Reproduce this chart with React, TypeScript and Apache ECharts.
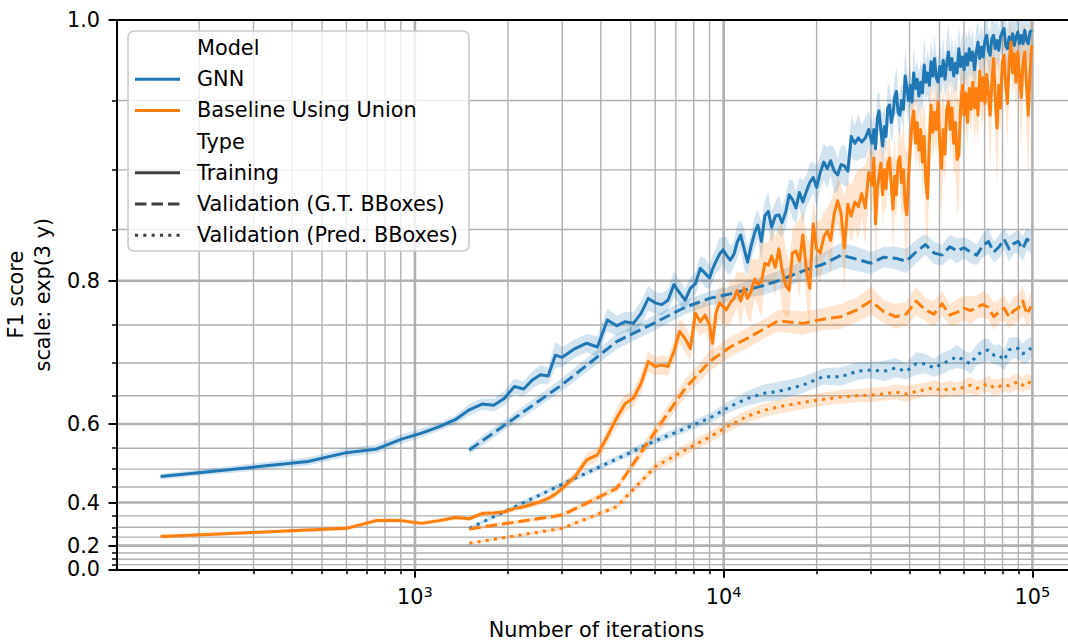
import React, { useEffect, useRef } from "react";
import * as echarts from "echarts";

// ---------- data (iterations, F1 score) ----------
const trainIters = [
  150, 300, 450, 600, 750, 900, 1050, 1200, 1350, 1500, 1650, 1800, 1950, 2100, 2250, 2400, 2550, 2700, 2850, 3000,
  3300, 3600, 3900, 4200, 4500, 4800, 5100, 5400, 5700, 6000, 6300, 6600, 6900, 7200, 7500, 7800, 8100,
  8400, 8700, 9000, 9200, 9450, 9700, 9950, 10200, 10500, 10800,
  11050, 11350, 11650, 11950, 12250, 12600, 12900, 13250, 13600, 13950,
  14300, 14700, 15100, 15450, 15900, 16300, 16700, 17150, 17600, 18050,
  18550, 19000, 19500, 20000, 20550, 21100, 21650, 22200, 22800, 23400,
  24000, 24600, 25250, 25900, 26600, 27300, 28000, 28750, 29500,
  30250, 30650, 31050, 31450, 31850, 32275, 32700, 33125, 33550, 34000,
  34450, 34900, 35350, 35800, 36250, 36725, 37200, 37700, 38200, 38700,
  39200, 39700, 40200, 40725, 41250, 41800, 42350, 42900, 43450, 44025,
  44600, 45175, 45750, 46350, 46950, 47575, 48200, 48825, 49450, 50100,
  50750, 51425, 52100, 52775, 53450, 54150, 54850, 55575, 56300, 57025,
  57750, 58525, 59300, 60075, 60850, 61650, 62450, 63275, 64100, 64925,
  65750, 66625, 67500, 68375, 69250, 70175, 71100, 72025, 72950, 73900,
  74850, 75825, 76800, 77800, 78800, 79850, 80900, 81950, 83000, 84100,
  85200, 86300, 87400, 88550, 89700, 90875, 92050, 93250, 94450, 95700,
  96950, 98200, 99450,
];

const gnnTrain = [
  0.480, 0.505, 0.519, 0.540, 0.548, 0.569, 0.582, 0.595, 0.608, 0.626, 0.636, 0.634, 0.646, 0.665, 0.661, 0.675, 0.683, 0.681, 0.711, 0.708,
  0.720, 0.727, 0.722, 0.756, 0.749, 0.754, 0.752, 0.764, 0.781, 0.776, 0.774, 0.779, 0.796, 0.787, 0.779, 0.792, 0.797,
  0.813, 0.808, 0.803, 0.812, 0.820, 0.827, 0.831, 0.826, 0.821, 0.827,
  0.838, 0.845, 0.832, 0.819, 0.834, 0.847, 0.854, 0.839, 0.862, 0.866,
  0.852, 0.862, 0.863, 0.856, 0.866, 0.880, 0.876, 0.869, 0.882, 0.874,
  0.883, 0.890, 0.894, 0.886, 0.898, 0.906, 0.901, 0.907, 0.899, 0.896,
  0.904, 0.903, 0.899, 0.925, 0.920, 0.924, 0.921, 0.924, 0.930,
  0.920, 0.930, 0.916, 0.938, 0.943, 0.930, 0.918, 0.932, 0.925, 0.945,
  0.947, 0.935, 0.941, 0.952, 0.956, 0.942, 0.940, 0.950, 0.944, 0.966,
  0.958, 0.950, 0.960, 0.949, 0.968, 0.958, 0.964, 0.953, 0.962, 0.955,
  0.973, 0.962, 0.968, 0.960, 0.975, 0.966, 0.977, 0.965, 0.962, 0.972,
  0.966, 0.976, 0.964, 0.974, 0.981, 0.970, 0.977, 0.966, 0.974, 0.968,
  0.983, 0.972, 0.978, 0.970, 0.980, 0.973, 0.983, 0.976, 0.981, 0.970,
  0.980, 0.987, 0.977, 0.984, 0.978, 0.988, 0.991, 0.982, 0.979, 0.989,
  0.991, 0.983, 0.988, 0.982, 0.990, 0.993, 0.995, 0.985, 0.983, 0.990,
  0.986, 0.992, 0.985, 0.990, 0.993, 0.986, 0.991, 0.986, 0.994, 0.988,
  0.986, 0.993, 0.994,
];

const gnnTrainCi = [
  0.008, 0.009, 0.010, 0.010, 0.010, 0.010, 0.009, 0.008, 0.008, 0.010, 0.010, 0.011, 0.012, 0.012, 0.012, 0.013, 0.014, 0.013, 0.018, 0.014,
  0.012, 0.012, 0.014, 0.014, 0.012, 0.012, 0.013, 0.014, 0.014, 0.012, 0.013, 0.012, 0.014, 0.013, 0.013, 0.012, 0.012,
  0.012, 0.015, 0.012, 0.014, 0.012, 0.016, 0.012, 0.018, 0.014, 0.012,
  0.016, 0.013, 0.020, 0.014, 0.012, 0.015, 0.013, 0.018, 0.013, 0.016,
  0.014, 0.012, 0.017, 0.013, 0.015, 0.012, 0.016, 0.014, 0.012, 0.018,
  0.013, 0.015, 0.012, 0.017, 0.013, 0.014, 0.016, 0.012, 0.018, 0.013,
  0.014, 0.016, 0.012, 0.015, 0.013, 0.017, 0.012, 0.015, 0.013,
  0.014, 0.013, 0.012, 0.016, 0.013, 0.015, 0.022, 0.014, 0.012, 0.016,
  0.013, 0.015, 0.014, 0.012, 0.016, 0.013, 0.015, 0.012, 0.014, 0.018,
  0.013, 0.015, 0.012, 0.014, 0.016, 0.013, 0.012, 0.015, 0.014, 0.013,
  0.018, 0.012, 0.014, 0.016, 0.013, 0.012, 0.015, 0.014, 0.013, 0.016,
  0.012, 0.014, 0.013, 0.015, 0.018, 0.012, 0.014, 0.013, 0.016, 0.012,
  0.014, 0.013, 0.015, 0.012, 0.014, 0.016, 0.013, 0.012, 0.014, 0.013,
  0.015, 0.012, 0.014, 0.013, 0.012, 0.015, 0.013, 0.012, 0.014, 0.013,
  0.012, 0.014, 0.013, 0.012, 0.011, 0.013, 0.012, 0.014, 0.012, 0.013,
  0.012, 0.011, 0.013, 0.012, 0.014, 0.012, 0.013, 0.012, 0.011, 0.013,
  0.012, 0.014, 0.012,
];

const baseTrain = [
  0.253, 0.275, 0.287, 0.295, 0.330, 0.330, 0.318, 0.330, 0.343, 0.338, 0.359, 0.361, 0.366, 0.378, 0.385, 0.394, 0.403, 0.414, 0.428, 0.446,
  0.480, 0.523, 0.535, 0.575, 0.611, 0.637, 0.646, 0.670, 0.702, 0.695, 0.697, 0.695, 0.716, 0.742, 0.733, 0.720, 0.764,
  0.754, 0.762, 0.750, 0.727, 0.765, 0.776, 0.772, 0.768, 0.776, 0.781,
  0.790, 0.778, 0.792, 0.781, 0.788, 0.802, 0.796, 0.799, 0.818, 0.816,
  0.825, 0.814, 0.832, 0.812, 0.795, 0.790, 0.828, 0.830, 0.820, 0.845,
  0.810, 0.792, 0.855, 0.832, 0.828, 0.843, 0.849, 0.840, 0.864, 0.875,
  0.864, 0.833, 0.872, 0.862, 0.874, 0.870, 0.881, 0.869, 0.898,
  0.888, 0.909, 0.855, 0.885, 0.895, 0.905, 0.880, 0.900, 0.885, 0.905,
  0.909, 0.888, 0.868, 0.895, 0.880, 0.906, 0.910, 0.890, 0.900, 0.872,
  0.863, 0.895, 0.916, 0.935, 0.943, 0.920, 0.935, 0.915, 0.930, 0.906,
  0.925, 0.890, 0.877, 0.920, 0.947, 0.928, 0.942, 0.930, 0.949, 0.920,
  0.901, 0.930, 0.912, 0.944, 0.949, 0.930, 0.945, 0.920, 0.935, 0.908,
  0.911, 0.945, 0.960, 0.940, 0.955, 0.935, 0.958, 0.944, 0.962, 0.945,
  0.958, 0.940, 0.969, 0.950, 0.965, 0.948, 0.967, 0.955, 0.940, 0.962,
  0.977, 0.950, 0.931, 0.960, 0.945, 0.975, 0.979, 0.960, 0.948, 0.975,
  0.987, 0.968, 0.980, 0.962, 0.981, 0.965, 0.952, 0.975, 0.981, 0.960,
  0.940, 0.968, 0.985,
];

const baseTrainCi = [
  0.010, 0.010, 0.010, 0.010, 0.010, 0.010, 0.010, 0.010, 0.010, 0.010, 0.010, 0.010, 0.010, 0.010, 0.011, 0.011, 0.012, 0.012, 0.012, 0.013,
  0.014, 0.016, 0.016, 0.016, 0.018, 0.015, 0.014, 0.016, 0.015, 0.013, 0.014, 0.013, 0.016, 0.015, 0.018, 0.016, 0.018,
  0.018, 0.020, 0.022, 0.030, 0.020, 0.018, 0.022, 0.020, 0.025, 0.018,
  0.020, 0.030, 0.018, 0.022, 0.035, 0.020, 0.025, 0.040, 0.020, 0.022,
  0.025, 0.030, 0.020, 0.045, 0.035, 0.030, 0.022, 0.025, 0.040, 0.020,
  0.035, 0.045, 0.020, 0.025, 0.030, 0.022, 0.020, 0.035, 0.018, 0.020,
  0.025, 0.045, 0.020, 0.025, 0.022, 0.030, 0.020, 0.035, 0.018,
  0.025, 0.020, 0.045, 0.030, 0.020, 0.018, 0.025, 0.030, 0.020, 0.018,
  0.016, 0.025, 0.040, 0.030, 0.020, 0.018, 0.022, 0.030, 0.035, 0.045,
  0.050, 0.030, 0.020, 0.018, 0.016, 0.020, 0.022, 0.018, 0.020, 0.030,
  0.025, 0.040, 0.050, 0.030, 0.018, 0.020, 0.022, 0.020, 0.018, 0.030,
  0.045, 0.030, 0.022, 0.018, 0.016, 0.020, 0.020, 0.025, 0.035, 0.045,
  0.040, 0.025, 0.016, 0.020, 0.022, 0.018, 0.018, 0.016, 0.018, 0.025,
  0.025, 0.018, 0.016, 0.020, 0.022, 0.018, 0.016, 0.020, 0.040, 0.025,
  0.016, 0.030, 0.045, 0.025, 0.018, 0.016, 0.014, 0.018, 0.030, 0.020,
  0.014, 0.016, 0.018, 0.020, 0.016, 0.020, 0.035, 0.022, 0.016, 0.030,
  0.050, 0.030, 0.018,
];

const valIters = [
  1500, 3000, 4500, 6000, 7500, 9000, 10500, 12000, 13500, 15000,
  18000, 21000, 24000, 27000, 30000, 33000, 36000, 39000, 42000, 45000,
  48000, 51000, 54000, 57000, 60000, 63000, 66000, 69000, 72000, 75000,
  78000, 81000, 84000, 87000, 90000, 93000, 96000, 99000,
];

const gnnValGt = [
  0.546, 0.668, 0.729, 0.753, 0.771, 0.781, 0.786, 0.791, 0.795, 0.800,
  0.810, 0.817, 0.826, 0.822, 0.818, 0.824, 0.823, 0.820, 0.829, 0.836,
  0.828, 0.826, 0.834, 0.830, 0.833, 0.829, 0.826, 0.835, 0.839, 0.829,
  0.834, 0.841, 0.832, 0.837, 0.839, 0.832, 0.841, 0.838,
];
const gnnValGtCi = [
  0.010, 0.010, 0.010, 0.009, 0.008, 0.008, 0.008, 0.009, 0.010, 0.010,
  0.010, 0.011, 0.012, 0.012, 0.011, 0.010, 0.011, 0.012, 0.011, 0.010,
  0.011, 0.010, 0.011, 0.012, 0.010, 0.011, 0.010, 0.011, 0.012, 0.010,
  0.011, 0.010, 0.012, 0.010, 0.011, 0.012, 0.010, 0.011,
];

const gnnValPred = [
  0.295, 0.458, 0.525, 0.566, 0.591, 0.611, 0.632, 0.646, 0.654, 0.657,
  0.667, 0.680, 0.680, 0.688, 0.690, 0.688, 0.693, 0.688, 0.699, 0.699,
  0.693, 0.699, 0.704, 0.709, 0.704, 0.699, 0.711, 0.716, 0.718, 0.711,
  0.711, 0.704, 0.718, 0.721, 0.720, 0.713, 0.716, 0.721,
];
const gnnValPredCi = [
  0.008, 0.008, 0.008, 0.008, 0.008, 0.009, 0.010, 0.012, 0.014, 0.015,
  0.013, 0.012, 0.014, 0.013, 0.012, 0.015, 0.014, 0.012, 0.016, 0.014,
  0.013, 0.015, 0.014, 0.016, 0.013, 0.015, 0.014, 0.016, 0.015, 0.013,
  0.015, 0.014, 0.016, 0.014, 0.015, 0.013, 0.016, 0.014,
];

const baseValGt = [
  0.292, 0.353, 0.446, 0.585, 0.662, 0.702, 0.722, 0.734, 0.745, 0.755,
  0.752, 0.757, 0.760, 0.768, 0.778, 0.766, 0.760, 0.763, 0.778, 0.768,
  0.763, 0.775, 0.762, 0.765, 0.770, 0.767, 0.771, 0.774, 0.771, 0.760,
  0.766, 0.770, 0.760, 0.767, 0.770, 0.778, 0.763, 0.772,
];
const baseValGtCi = [
  0.008, 0.010, 0.012, 0.014, 0.014, 0.014, 0.013, 0.013, 0.012, 0.013,
  0.014, 0.013, 0.015, 0.014, 0.016, 0.013, 0.015, 0.014, 0.016, 0.013,
  0.015, 0.014, 0.013, 0.015, 0.014, 0.016, 0.013, 0.015, 0.014, 0.016,
  0.013, 0.015, 0.014, 0.016, 0.015, 0.017, 0.014, 0.016,
];

const baseValPred = [
  0.215, 0.295, 0.385, 0.506, 0.546, 0.574, 0.598, 0.615, 0.625, 0.631,
  0.639, 0.644, 0.648, 0.650, 0.651, 0.653, 0.656, 0.653, 0.657, 0.660,
  0.663, 0.658, 0.662, 0.660, 0.664, 0.667, 0.662, 0.666, 0.669, 0.663,
  0.665, 0.668, 0.666, 0.670, 0.672, 0.667, 0.673, 0.670,
];
const baseValPredCi = [
  0.008, 0.009, 0.010, 0.012, 0.012, 0.012, 0.011, 0.011, 0.012, 0.012,
  0.012, 0.011, 0.012, 0.011, 0.012, 0.011, 0.012, 0.013, 0.012, 0.011,
  0.012, 0.013, 0.012, 0.011, 0.012, 0.013, 0.012, 0.011, 0.012, 0.013,
  0.012, 0.011, 0.012, 0.013, 0.012, 0.012, 0.013, 0.012,
];

// ---------- ticks ----------
const xMajorTicks = [1000, 10000, 100000];
const xMinorTicks = [
  200, 300, 400, 500, 600, 700, 800, 900,
  2000, 3000, 4000, 5000, 6000, 7000, 8000, 9000,
  20000, 30000, 40000, 50000, 60000, 70000, 80000, 90000,
];
const yMajorTicks = [0, 0.2, 0.4, 0.6, 0.8, 1.0];
const yMinorTicks = [0.05, 0.1, 0.15, 0.25, 0.3, 0.35, 0.45, 0.5, 0.55, 0.65, 0.7, 0.75, 0.85, 0.9, 0.95];
const yGridMajor = [0.2, 0.4, 0.6, 0.8];

const X_MIN_ITER = 108.4;
const X_MAX_ITER = 138400;

const BLUE = "#1f77b4";
const ORANGE = "#ff7f0e";
const FONT = "DejaVu Sans";
const FS = 20.8;

const legendTitles = ["Model", "Type"];
const legendModels = ["GNN", "Baseline Using Union"];
const legendTypes = ["Training", "Validation (G.T. BBoxes)", "Validation (Pred. BBoxes)"];

const DASH = [11.5, 5];
const DOT = [3.1, 5.2];

const tx = (v: number) => Math.log10(v);
const ty = (v: number) => Math.exp(3 * v);

function lineSeries(name: string, iters: number[], vals: number[], color: string, dash: any) {
  const n = Math.min(iters.length, vals.length);
  const data: number[][] = [];
  for (let i = 0; i < n; i++) data.push([tx(iters[i]), ty(vals[i])]);
  return {
    type: "line",
    name,
    data,
    xAxisIndex: 0,
    yAxisIndex: 0,
    showSymbol: false,
    symbol: "none",
    silent: true,
    clip: true,
    z: 5,
    lineStyle: { color, width: 3, type: dash, cap: "butt", join: "round" },
  };
}

function bandSeries(iters: number[], vals: number[], ci: number[], fill: string) {
  const n = Math.min(iters.length, vals.length, ci.length);
  return {
    type: "custom",
    xAxisIndex: 0,
    yAxisIndex: 0,
    silent: true,
    clip: true,
    z: 3,
    data: [[tx(iters[0]), ty(vals[0])]],
    renderItem: (params: any, api: any) => {
      if (params.dataIndex !== 0) return null;
      const up: number[][] = [];
      const lo: number[][] = [];
      for (let i = 0; i < n; i++) {
        up.push(api.coord([tx(iters[i]), ty(vals[i] + ci[i])]));
        lo.push(api.coord([tx(iters[i]), ty(vals[i] - ci[i])]));
      }
      lo.reverse();
      return {
        type: "polygon",
        shape: { points: up.concat(lo) },
        style: { fill, stroke: "none" },
      };
    },
  };
}

function hGridSeries(vals: number[], width: number) {
  return {
    type: "custom",
    xAxisIndex: 0,
    yAxisIndex: 0,
    silent: true,
    z: 1,
    data: vals.map((v) => [tx(1000), ty(v)]),
    renderItem: (params: any, api: any) => {
      const cs = params.coordSys;
      const y = api.coord([api.value(0), api.value(1)])[1];
      return {
        type: "line",
        shape: { x1: cs.x, y1: y, x2: cs.x + cs.width, y2: y },
        style: { stroke: "#b0b0b0", lineWidth: width },
      };
    },
  };
}

function vGridSeries(vals: number[], width: number) {
  return {
    type: "custom",
    xAxisIndex: 0,
    yAxisIndex: 0,
    silent: true,
    z: 1,
    data: vals.map((v) => [tx(v), ty(0.5)]),
    renderItem: (params: any, api: any) => {
      const cs = params.coordSys;
      const x = api.coord([api.value(0), api.value(1)])[0];
      return {
        type: "line",
        shape: { x1: x, y1: cs.y, x2: x, y2: cs.y + cs.height },
        style: { stroke: "#b0b0b0", lineWidth: width },
      };
    },
  };
}

function buildLegend() {
  const els: any[] = [];
  els.push({
    type: "rect",
    z: 100,
    shape: { x: 128, y: 31, width: 341, height: 220, r: 6 },
    style: { fill: "rgba(255,255,255,0.8)", stroke: "#cccccc", lineWidth: 1.7 },
  });
  const rows: { text: string; color?: string; dash?: number[] | null }[] = [
    { text: legendTitles[0] },
    { text: legendModels[0], color: BLUE, dash: null },
    { text: legendModels[1], color: ORANGE, dash: null },
    { text: legendTitles[1] },
    { text: legendTypes[0], color: "#404040", dash: null },
    { text: legendTypes[1], color: "#404040", dash: DASH },
    { text: legendTypes[2], color: "#404040", dash: DOT },
  ];
  rows.forEach((r, i) => {
    const y = 48 + i * 31.2;
    if (r.color) {
      els.push({
        type: "line",
        z: 101,
        shape: { x1: 135, y1: y, x2: 180, y2: y },
        style: { stroke: r.color, lineWidth: 3, lineDash: r.dash || undefined, lineCap: "butt" },
      });
    }
    els.push({
      type: "text",
      z: 101,
      x: 197,
      y,
      style: {
        text: r.text,
        fontSize: FS,
        fontFamily: FONT,
        fill: "#000",
        align: "left",
        verticalAlign: "middle",
      },
    });
  });
  return els;
}

export default function App() {
  const ref = useRef<HTMLDivElement>(null);
  useEffect(() => {
    if (!ref.current) return;
    const chart = echarts.init(ref.current, undefined, { renderer: "svg" });
    const xMin = tx(X_MIN_ITER);
    const xMax = tx(X_MAX_ITER);
    const yMin = ty(0);
    const yMax = ty(1);
    const axisBlack = { color: "#000", width: 2 };
    const option: any = {
      animation: false,
      backgroundColor: "#fff",
      textStyle: { fontFamily: FONT },
      grid: {
        left: 117,
        top: 20,
        width: 959,
        height: 549.3,
        containLabel: false,
        outerBoundsMode: "none",
        show: false,
      },
      xAxis: [
        {
          type: "value",
          min: xMin,
          max: xMax,
          position: "bottom",
          z: 10,
          axisLine: { show: true, onZero: false, lineStyle: axisBlack },
          axisTick: { show: true, customValues: xMajorTicks.map(tx), length: 8.5, lineStyle: axisBlack },
          axisLabel: {
            show: true,
            customValues: xMajorTicks.map(tx),
            margin: 15,
            formatter: (v: number) => `{b|10}{s|${Math.round(v)}}`,
            rich: {
              b: { fontSize: FS, fontFamily: FONT, color: "#000", lineHeight: 26 },
              s: { fontSize: 14.6, fontFamily: FONT, color: "#000", lineHeight: 15, verticalAlign: "top" },
            },
          },
          splitLine: { show: false },
          name: "Number of iterations",
          nameLocation: "middle",
          nameGap: 50,
          nameTextStyle: { fontSize: FS, fontFamily: FONT, color: "#000", lineHeight: 21 },
        },
        {
          type: "value",
          min: xMin,
          max: xMax,
          position: "bottom",
          z: 10,
          axisLine: { show: false, onZero: false },
          axisTick: { show: true, customValues: xMinorTicks.map(tx), length: 5, lineStyle: { color: "#000", width: 1.5 } },
          axisLabel: { show: false },
          splitLine: { show: false },
        },
        {
          type: "value",
          min: xMin,
          max: xMax,
          position: "top",
          z: 10,
          axisLine: { show: true, onZero: false, lineStyle: axisBlack },
          axisTick: { show: false },
          axisLabel: { show: false },
          splitLine: { show: false },
        },
      ],
      yAxis: [
        {
          type: "value",
          min: yMin,
          max: yMax,
          position: "left",
          z: 10,
          axisLine: { show: true, onZero: false, lineStyle: axisBlack },
          axisTick: { show: true, customValues: yMajorTicks.map(ty), length: 8.5, lineStyle: axisBlack },
          axisLabel: {
            show: true,
            customValues: yMajorTicks.map(ty),
            margin: 17,
            fontSize: FS,
            fontFamily: FONT,
            color: "#000",
            formatter: (v: number) => (Math.log(v) / 3).toFixed(1),
          },
          splitLine: { show: false },
          name: "F1 score\nscale: exp(3 y)",
          nameLocation: "middle",
          nameRotate: 90,
          nameGap: 59,
          nameTextStyle: { fontSize: FS, fontFamily: FONT, color: "#000", lineHeight: 26.5, align: "center" },
        },
        {
          type: "value",
          min: yMin,
          max: yMax,
          position: "left",
          z: 10,
          axisLine: { show: false, onZero: false },
          axisTick: { show: true, customValues: yMinorTicks.map(ty), length: 5, lineStyle: { color: "#000", width: 1.5 } },
          axisLabel: { show: false },
          splitLine: { show: false },
        },
      ],
      graphic: { elements: buildLegend() },
      series: [
        hGridSeries(yMinorTicks, 1.4),
        vGridSeries(xMinorTicks, 1.4),
        hGridSeries(yGridMajor, 2.6),
        vGridSeries(xMajorTicks, 2.6),
        bandSeries(trainIters, gnnTrain, gnnTrainCi, "rgba(31,119,180,0.2)"),
        bandSeries(valIters, gnnValGt, gnnValGtCi, "rgba(31,119,180,0.2)"),
        bandSeries(valIters, gnnValPred, gnnValPredCi, "rgba(31,119,180,0.2)"),
        bandSeries(trainIters, baseTrain, baseTrainCi, "rgba(255,127,14,0.2)"),
        bandSeries(valIters, baseValGt, baseValGtCi, "rgba(255,127,14,0.2)"),
        bandSeries(valIters, baseValPred, baseValPredCi, "rgba(255,127,14,0.2)"),
        lineSeries("GNN Training", trainIters, gnnTrain, BLUE, "solid"),
        lineSeries("GNN Validation (G.T. BBoxes)", valIters, gnnValGt, BLUE, DASH),
        lineSeries("GNN Validation (Pred. BBoxes)", valIters, gnnValPred, BLUE, DOT),
        lineSeries("Baseline Training", trainIters, baseTrain, ORANGE, "solid"),
        lineSeries("Baseline Validation (G.T. BBoxes)", valIters, baseValGt, ORANGE, DASH),
        lineSeries("Baseline Validation (Pred. BBoxes)", valIters, baseValPred, ORANGE, DOT),
      ],
    };
    chart.setOption(option);
    return () => chart.dispose();
  }, []);
  return (
    <div
      ref={ref}
      style={{ position: "fixed", left: 0, top: 0, width: 1068, height: 641, background: "#fff" }}
    />
  );
}
